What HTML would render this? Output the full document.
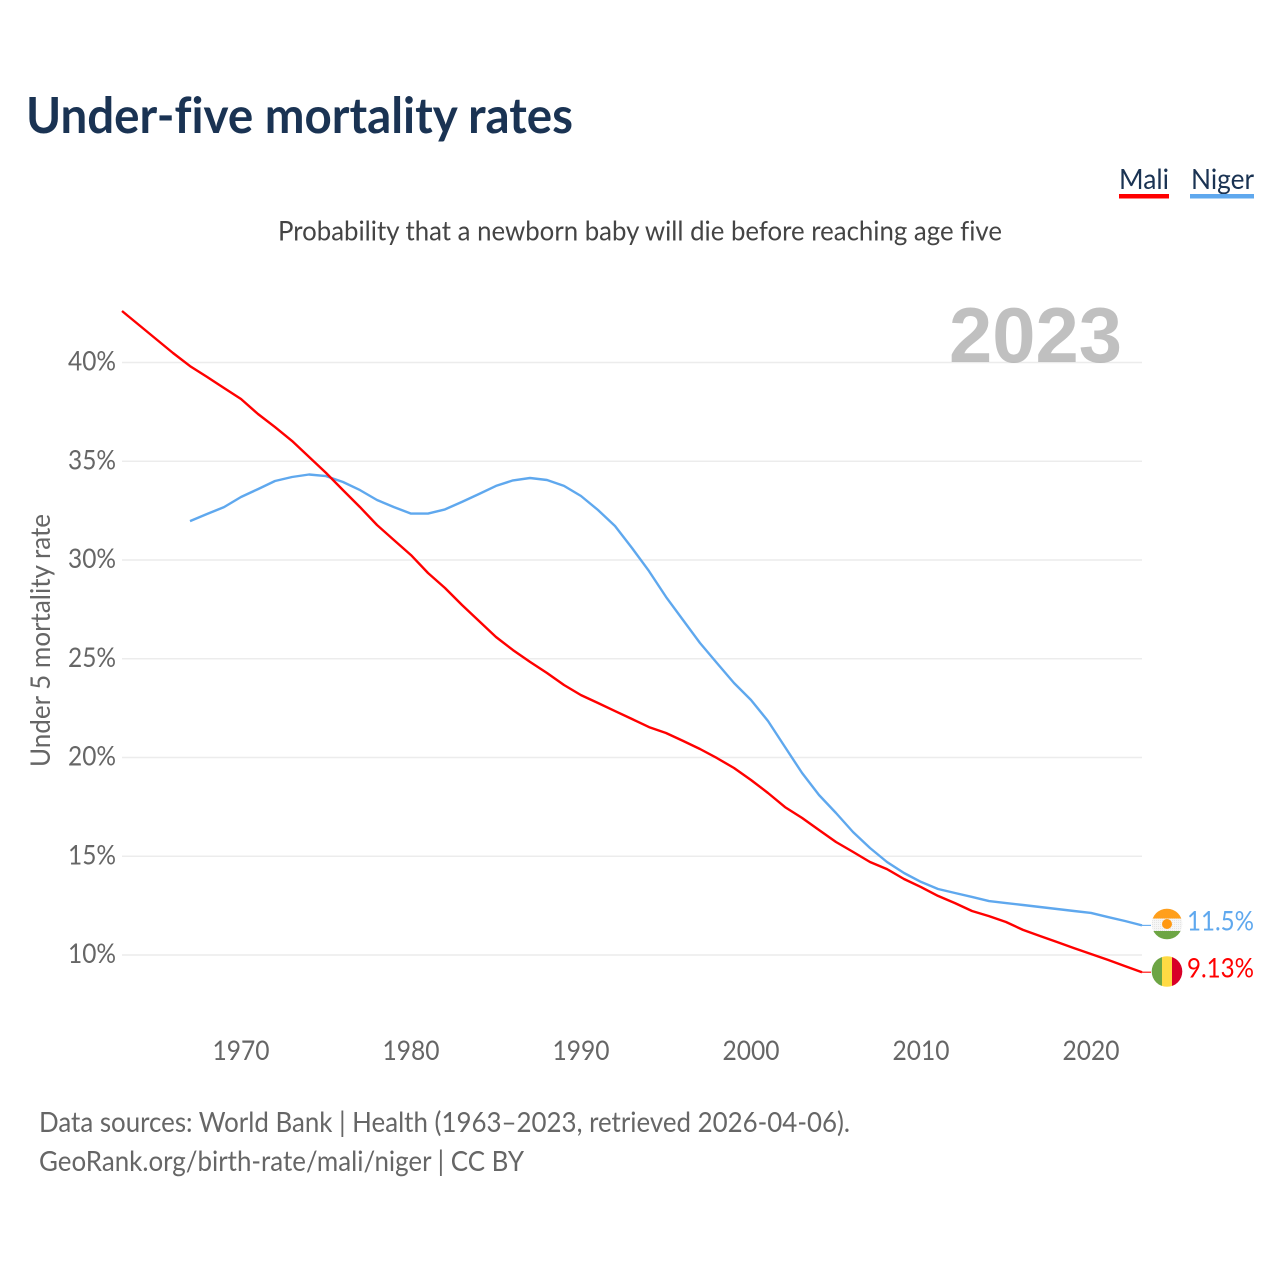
<!DOCTYPE html>
<html lang="en">
<head>
<meta charset="utf-8">
<title>Under-five mortality rates</title>
<style>
html,body{margin:0;padding:0;background:#fff;width:1280px;height:1280px;overflow:hidden}
svg{display:block}
text{font-family:"Lato","Carlito","Liberation Sans",sans-serif;font-variant-ligatures:none}
</style>
</head>
<body>
<svg id="chart" width="1280" height="1280" viewBox="0 0 1280 1280" xmlns="http://www.w3.org/2000/svg">
  <defs>
    <clipPath id="clip-niger"><circle cx="1167" cy="924" r="15.3"/></clipPath>
    <clipPath id="clip-mali"><circle cx="1167" cy="971.5" r="15.3"/></clipPath>
    <pattern id="flag-dots" width="2" height="2" patternUnits="userSpaceOnUse"><rect width="2" height="2" fill="#f6f6f6"/><rect width="1" height="1" fill="#e4e4e4"/></pattern>
  </defs>
  <rect width="1280" height="1280" fill="#fff"/>
  <text x="26" y="133" font-size="50" font-weight="700" fill="#1a3353" textLength="547" lengthAdjust="spacingAndGlyphs">Under-five mortality rates</text>
  <g>
    <text x="1119" y="189" font-size="28" fill="#1a3353" textLength="50" lengthAdjust="spacingAndGlyphs">Mali</text>
    <rect x="1119" y="194" width="50" height="4.5" fill="#ff0000"/>
  </g>
  <g>
    <text x="1191" y="189" font-size="28" fill="#1a3353" textLength="63" lengthAdjust="spacingAndGlyphs">Niger</text>
    <rect x="1190" y="194" width="64" height="4.5" fill="#5fa8ee"/>
  </g>
  <text x="278" y="240.5" font-size="27.5" fill="#444" textLength="724" lengthAdjust="spacingAndGlyphs">Probability that a newborn baby will die before reaching age five</text>
  <g id="grid"></g>
  <text x="949" y="362" font-size="78" font-weight="700" fill="#9a9a9a" fill-opacity="0.62" style='font-family:"Liberation Sans",sans-serif' textLength="173" lengthAdjust="spacingAndGlyphs">2023</text>
  <g id="y-axis"></g>
  <g id="x-axis"></g>
  <text transform="translate(50,767) rotate(-90)" x="0" y="0" font-size="27" fill="#666" textLength="253" lengthAdjust="spacingAndGlyphs">Under 5 mortality rate</text>
  <g id="series"></g>

  <g clip-path="url(#clip-niger)">
    <rect x="1151" y="908" width="32" height="32" fill="url(#flag-dots)"/>
    <rect x="1151" y="908" width="32" height="10.5" fill="#ff9f1c"/>
    <rect x="1151" y="931" width="32" height="9" fill="#6da544"/>
    <circle cx="1167" cy="924" r="5" fill="#ff9811"/>
  </g>
  <g clip-path="url(#clip-mali)">
    <rect x="1151" y="955.5" width="11" height="32" fill="#6da544"/>
    <rect x="1162" y="955.5" width="10" height="32" fill="#ffda44"/>
    <rect x="1172" y="955.5" width="11" height="32" fill="#d80027"/>
  </g>
  <text id="label-niger" x="1187" y="930.5" font-size="27" fill="#5fa8ee" textLength="67" lengthAdjust="spacingAndGlyphs">11.5%</text>
  <text id="label-mali" x="1187" y="977.5" font-size="27" fill="#ff0000" textLength="67" lengthAdjust="spacingAndGlyphs">9.13%</text>

  <text x="39" y="1132" font-size="28" fill="#666" textLength="811" lengthAdjust="spacingAndGlyphs">Data sources: World Bank | Health (1963–2023, retrieved 2026-04-06).</text>
  <text x="39" y="1171" font-size="28" fill="#666" textLength="485" lengthAdjust="spacingAndGlyphs">GeoRank.org/birth-rate/mali/niger | CC BY</text>
</svg>
<script>
const yTicks = [10, 15, 20, 25, 30, 35, 40];
const xTicks = [1970, 1980, 1990, 2000, 2010, 2020];
const maliStartYear = 1963;
const nigerStartYear = 1967;
const maliValues = [42.61,41.90,41.19,40.48,39.82,39.27,38.71,38.15,37.39,36.73,36.03,35.22,34.41,33.54,32.68,31.77,31.01,30.25,29.34,28.58,27.72,26.91,26.10,25.44,24.84,24.28,23.67,23.16,22.76,22.35,21.95,21.54,21.24,20.84,20.43,19.97,19.47,18.86,18.20,17.49,16.94,16.33,15.72,15.22,14.71,14.35,13.85,13.44,12.99,12.63,12.23,11.97,11.67,11.27,10.96,10.66,10.35,10.05,9.75,9.44,9.13];
const nigerValues = [31.97,32.33,32.68,33.19,33.59,34.00,34.20,34.33,34.25,33.95,33.54,33.04,32.68,32.35,32.35,32.56,32.94,33.34,33.75,34.03,34.15,34.05,33.75,33.24,32.53,31.72,30.61,29.44,28.13,26.96,25.80,24.78,23.77,22.91,21.85,20.53,19.22,18.10,17.19,16.23,15.42,14.71,14.15,13.70,13.34,13.14,12.94,12.73,12.63,12.53,12.43,12.33,12.23,12.13,11.92,11.72,11.50];

const NS = 'http://www.w3.org/2000/svg';
function xScale(year) { return 122 + (year - 1963) * 17; }
function yScale(v) { return 955 - (v - 10) * 19.75; }
function make(tag, attrs, parent) {
  const el = document.createElementNS(NS, tag);
  for (const k in attrs) el.setAttribute(k, attrs[k]);
  parent.appendChild(el);
  return el;
}

const grid = document.getElementById('grid');
const yAxis = document.getElementById('y-axis');
const xAxis = document.getElementById('x-axis');
const series = document.getElementById('series');

yTicks.forEach(function (t) {
  const line = make('line', {x1: xScale(1963), x2: xScale(2023), y1: yScale(t), y2: yScale(t), stroke: '#ececec', 'stroke-width': 1.5}, grid);
  
  
  const label = make('text', {x: 68, y: yScale(t) + 8, 'font-size': 27, fill: '#666', textLength: 48, lengthAdjust: 'spacingAndGlyphs'}, yAxis);
  
  
  label.textContent = t + '%';
});

xTicks.forEach(function (t) {
  const label = make('text', {x: xScale(t) - 28.5, y: 1060, 'font-size': 27, fill: '#666', textLength: 57, lengthAdjust: 'spacingAndGlyphs'}, xAxis);
  
  
  label.textContent = t;
});

function drawSeries(values, startYear, color) {
  const pts = values.map(function (v, i) { return xScale(startYear + i).toFixed(1) + ',' + yScale(v).toFixed(1); });
  return make('polyline', {points: pts.join(' '), fill: 'none', stroke: color, 'stroke-width': 2.4, 'stroke-linejoin': 'round'}, series);
}
function drawStub(values, startYear, color) {
  const lastYear = startYear + values.length - 1;
  const y = yScale(values[values.length - 1]);
  return make('line', {x1: xScale(lastYear), x2: xScale(lastYear) + 9, y1: y, y2: y, stroke: color, 'stroke-width': 1.1}, series);
}
const nigerLine = drawSeries(nigerValues, nigerStartYear, '#5fa8ee');


const nigerStub = drawStub(nigerValues, nigerStartYear, '#5fa8ee');


const maliLine = drawSeries(maliValues, maliStartYear, '#ff0000');


const maliStub = drawStub(maliValues, maliStartYear, '#ff0000');


</script>
</body>
</html>
